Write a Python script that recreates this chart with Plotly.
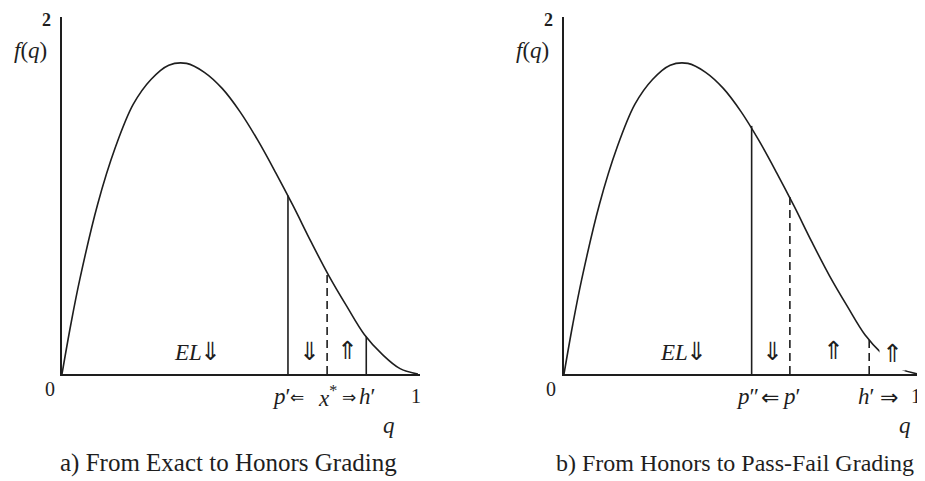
import plotly.graph_objects as go

# ---- data ----
q_grid = [0.0, 0.025, 0.05, 0.1, 0.15, 0.2, 0.25, 0.3, 0.35, 0.4, 0.45, 0.5,
          0.55, 0.6, 0.65, 0.7, 0.75, 0.8, 0.85, 0.9, 0.95, 1.0]
f_vals = [0.0, 0.28, 0.53, 0.95, 1.27, 1.51, 1.65, 1.73, 1.74, 1.69, 1.60, 1.47,
          1.31, 1.13, 0.94, 0.74, 0.55, 0.38, 0.22, 0.11, 0.03, 0.0]

# panel a) cut points: p', x*, h'
cuts_a_q = [0.635, 0.745, 0.855]
cuts_a_f = [1.00, 0.57, 0.21]
# panel b) cut points: p'', p', h'
cuts_b_q = [0.530, 0.638, 0.862]
cuts_b_f = [1.39, 1.01, 0.20]

y_ticks = ["0", "2"]
captions = ["a) From Exact to Honors Grading", "b) From Honors to Pass-Fail Grading"]

# the page body has an 8px margin; size the figure to fill the rest of the window
OFF = 8
W, H = 925 - OFF, 481 - OFF
def px(x):
    return (x - OFF) / W
def py(y):
    return 1 - (y - OFF) / H

INK = "#1e1e1e"
SERIF = "Liberation Serif"

fig = go.Figure()

# curves
for xa, ya in [("x", "y"), ("x2", "y2")]:
    fig.add_trace(go.Scatter(x=q_grid, y=f_vals, mode="lines", line_shape="spline",
                             line=dict(color=INK, width=1.6), xaxis=xa, yaxis=ya,
                             hoverinfo="skip", showlegend=False))

styles_a = ["solid", "dash", "solid"]
styles_b = ["solid", "dash", "dash"]
for qs, fs, sts, xa, ya in [(cuts_a_q, cuts_a_f, styles_a, "x", "y"),
                             (cuts_b_q, cuts_b_f, styles_b, "x2", "y2")]:
    for q, f, st in zip(qs, fs, sts):
        fig.add_trace(go.Scatter(x=[q, q], y=[0, f], mode="lines",
                                 line=dict(color=INK, width=1.6,
                                           dash="8px,5px" if st == "dash" else "solid"),
                                 xaxis=xa, yaxis=ya, hoverinfo="skip", showlegend=False))

ax_common = dict(showgrid=False, zeroline=False, showticklabels=False, ticks="",
                 showline=True, linecolor=INK, linewidth=1.8, fixedrange=True)
fig.update_layout(
    width=W, height=H, margin=dict(l=0, r=0, t=0, b=0),
    paper_bgcolor="white", plot_bgcolor="white", showlegend=False,
    xaxis=dict(domain=[px(62), px(420)], range=[0, 1.006], anchor="y", **ax_common),
    yaxis=dict(domain=[py(374), py(17)], range=[0, 2], anchor="x", **ax_common),
    xaxis2=dict(domain=[px(564), px(923)], range=[0, 1.014], anchor="y2", **ax_common),
    yaxis2=dict(domain=[py(374), py(17)], range=[0, 2], anchor="x2", **ax_common),
)

def ann(x, y, text, size=18, bg=None, xanchor="center", family=SERIF):
    d = dict(x=px(x), y=py(y), xref="paper", yref="paper", text=text, showarrow=False,
             font=dict(family=family, size=size, color=INK), xanchor=xanchor, yanchor="middle")
    if bg:
        d.update(bgcolor=bg, borderpad=2)
    fig.add_annotation(**d)

ARW = "DejaVu Sans"
LBL = 23
BIG = 25
# panel a labels
ann(46, 20, "<b>" + y_ticks[1] + "</b>", 18)
ann(30, 50, "<i>f</i>(<i>q</i>)", LBL)
ann(50, 389, y_ticks[0], 20)
ann(188, 352, "<i>EL</i>", LBL)
ann(210, 351, "⇓", BIG, family=ARW)
ann(309, 351, "⇓", BIG, family=ARW)
ann(347, 350, "⇑", BIG, family=ARW)
ann(281, 396, "<i>p</i>′", LBL)
ann(297, 397, "⇐", 17, family=ARW)
ann(327, 396, "<i>x</i><sup>*</sup>", LBL)
ann(349, 397, "⇒", 17, family=ARW)
ann(367, 396, "<i>h</i>′", LBL)
ann(416, 396, "1", 20)
ann(389, 425, "<i>q</i>", LBL)
ann(228, 463, captions[0], 25)

# panel b labels
ann(548, 20, "<b>" + y_ticks[1] + "</b>", 18)
ann(532, 50, "<i>f</i>(<i>q</i>)", LBL)
ann(551, 389, y_ticks[0], 20)
ann(674, 352, "<i>EL</i>", LBL)
ann(696, 351, "⇓", BIG, family=ARW)
ann(772, 351, "⇓", BIG, family=ARW)
ann(833, 350, "⇑", BIG, family=ARW)
ann(892, 353, "⇑", BIG, bg="white", family=ARW)
ann(747, 396, "<i>p</i>″", LBL)
ann(770, 397, "⇐", 22, family=ARW)
ann(791, 396, "<i>p</i>′", LBL)
ann(866, 396, "<i>h</i>′", LBL)
ann(889, 397, "⇒", 22, family=ARW)
ann(916, 396, "1", 20)
ann(905, 425, "<i>q</i>", LBL)
ann(735, 463, captions[1], 24)

fig.write_html("out.html")
